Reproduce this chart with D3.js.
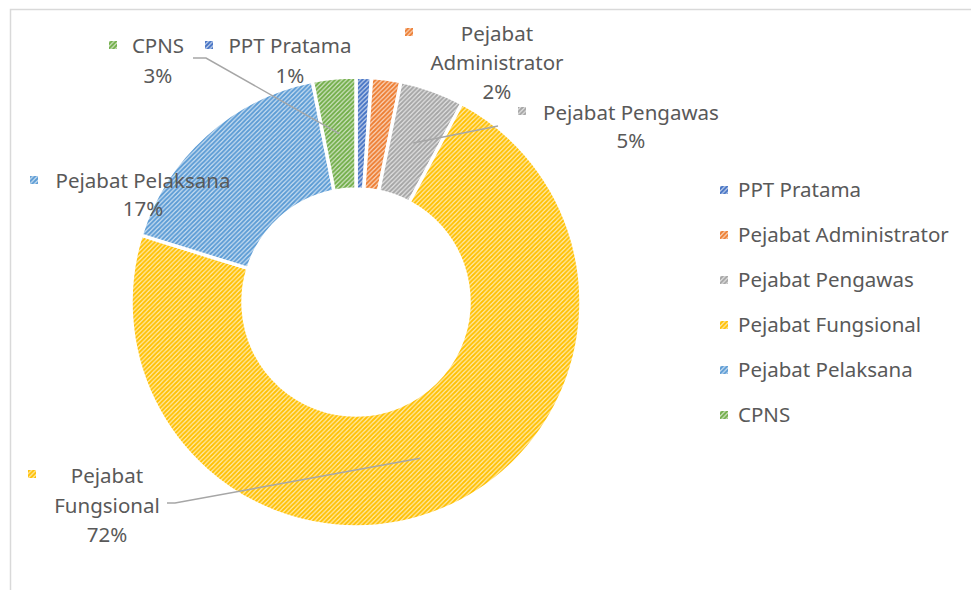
<!DOCTYPE html>
<html>
<head>
<meta charset="utf-8">
<script src="https://cdn.jsdelivr.net/npm/d3@7"></script>
<style>
  body { margin: 0; background: #fff; }
  svg { display: block; font-family: "Noto Sans", sans-serif; }
</style>
</head>
<body>
<svg id="chart" width="971" height="590"></svg>
<script>
const categories = ['PPT Pratama', 'Pejabat Administrator', 'Pejabat Pengawas', 'Pejabat Fungsional', 'Pejabat Pelaksana', 'CPNS'];
const values = [1.1, 2.1, 4.6, 72.0, 17.1, 3.1];
const colors = ['#4472c4', '#ed7d31', '#a5a5a5', '#ffc000', '#5b9bd5', '#70ad47'];

// where each data label sits (marker, text centre, first baseline, leader start)
const labelLayout = [
  {mx: 205, my: 41, x: 290, y: 53, lh: 30, split: false, leader: null},
  {mx: 405, my: 28, x: 497, y: 41, lh: 29, split: true, leader: null},
  {mx: 518, my: 107, x: 631, y: 120, lh: 28, split: false, leader: [[498, 126]]},
  {mx: 28, my: 470, x: 107, y: 483, lh: 29.5, split: true, leader: [[167, 503], [175, 503]]},
  {mx: 30, my: 176, x: 143, y: 188, lh: 28, split: false, leader: null},
  {mx: 109, my: 41, x: 158, y: 53, lh: 30, split: false, leader: [[193, 58], [206, 58]]}
];

const svg = d3.select('#chart');
const textColor = '#595959';

// hatch patterns
const defs = svg.append('defs');
colors.forEach((c, i) => {
  const p = defs.append('pattern')
    .attr('id', 'hatch' + i)
    .attr('patternUnits', 'userSpaceOnUse')
    .attr('width', 4.5).attr('height', 4.5);
  p.append('rect').attr('width', 4.5).attr('height', 4.5)
    .attr('fill', d3.interpolateRgb('#ffffff', c)(0.3));
  p.append('path')
    .attr('d', 'M-1,1 l2,-2 M0,4.5 l4.5,-4.5 M3.5,5.5 l2,-2')
    .attr('stroke', c).attr('stroke-width', 2);
});

// chart area border
svg.append('path')
  .attr('d', 'M10.5,600 V9.5 H980')
  .attr('fill', 'none').attr('stroke', '#d9d9d9').attr('stroke-width', 1.5);

const cx = 356, cy = 302, outerR = 225, innerR = 113;
const total = d3.sum(values);

const pie = d3.pie().sort(null).value(d => d)(values);
const arc = d3.arc().innerRadius(innerR).outerRadius(outerR);
const midArc = d3.arc().innerRadius((innerR + outerR) / 2).outerRadius((innerR + outerR) / 2);

const g = svg.append('g').attr('transform', `translate(${cx},${cy})`);
g.selectAll('path.slice')
  .data(pie)
  .join('path')
  .attr('class', 'slice')
  .attr('d', arc)
  .attr('fill', (d, i) => `url(#hatch${i})`)
  .attr('stroke', '#fff')
  .attr('stroke-width', 3.5);

// leader lines
labelLayout.forEach((l, i) => {
  if (!l.leader) return;
  const c = midArc.centroid(pie[i]);
  const pts = l.leader.concat([[c[0] + cx, c[1] + cy]]);
  svg.append('path')
    .attr('d', d3.line()(pts))
    .attr('fill', 'none')
    .attr('stroke', '#a6a6a6')
    .attr('stroke-width', 1.5);
});

// data labels
labelLayout.forEach((l, i) => {
  const name = categories[i];
  const pct = Math.round(values[i] / total * 100) + '%';
  const lines = l.split ? name.split(' ').concat([pct]) : [name, pct];
  svg.append('rect')
    .attr('x', l.mx).attr('y', l.my)
    .attr('width', 8).attr('height', 8)
    .attr('fill', `url(#hatch${i})`);
  const t = svg.append('text')
    .attr('text-anchor', 'middle')
    .attr('fill', textColor)
    .attr('font-size', 20.5);
  lines.forEach((s, k) => {
    t.append('tspan').attr('x', l.x).attr('y', l.y + k * l.lh).text(s);
  });
});

// legend
const legendY = d3.scalePoint().domain(categories).range([197, 422]);
const legend = svg.append('g');
categories.forEach((c, i) => {
  legend.append('rect')
    .attr('x', 720).attr('y', legendY(c) - 11)
    .attr('width', 8).attr('height', 8)
    .attr('fill', `url(#hatch${i})`);
  legend.append('text')
    .attr('x', 738).attr('y', legendY(c))
    .attr('fill', textColor)
    .attr('font-size', 20.5)
    .text(c);
});
</script>
</body>
</html>
